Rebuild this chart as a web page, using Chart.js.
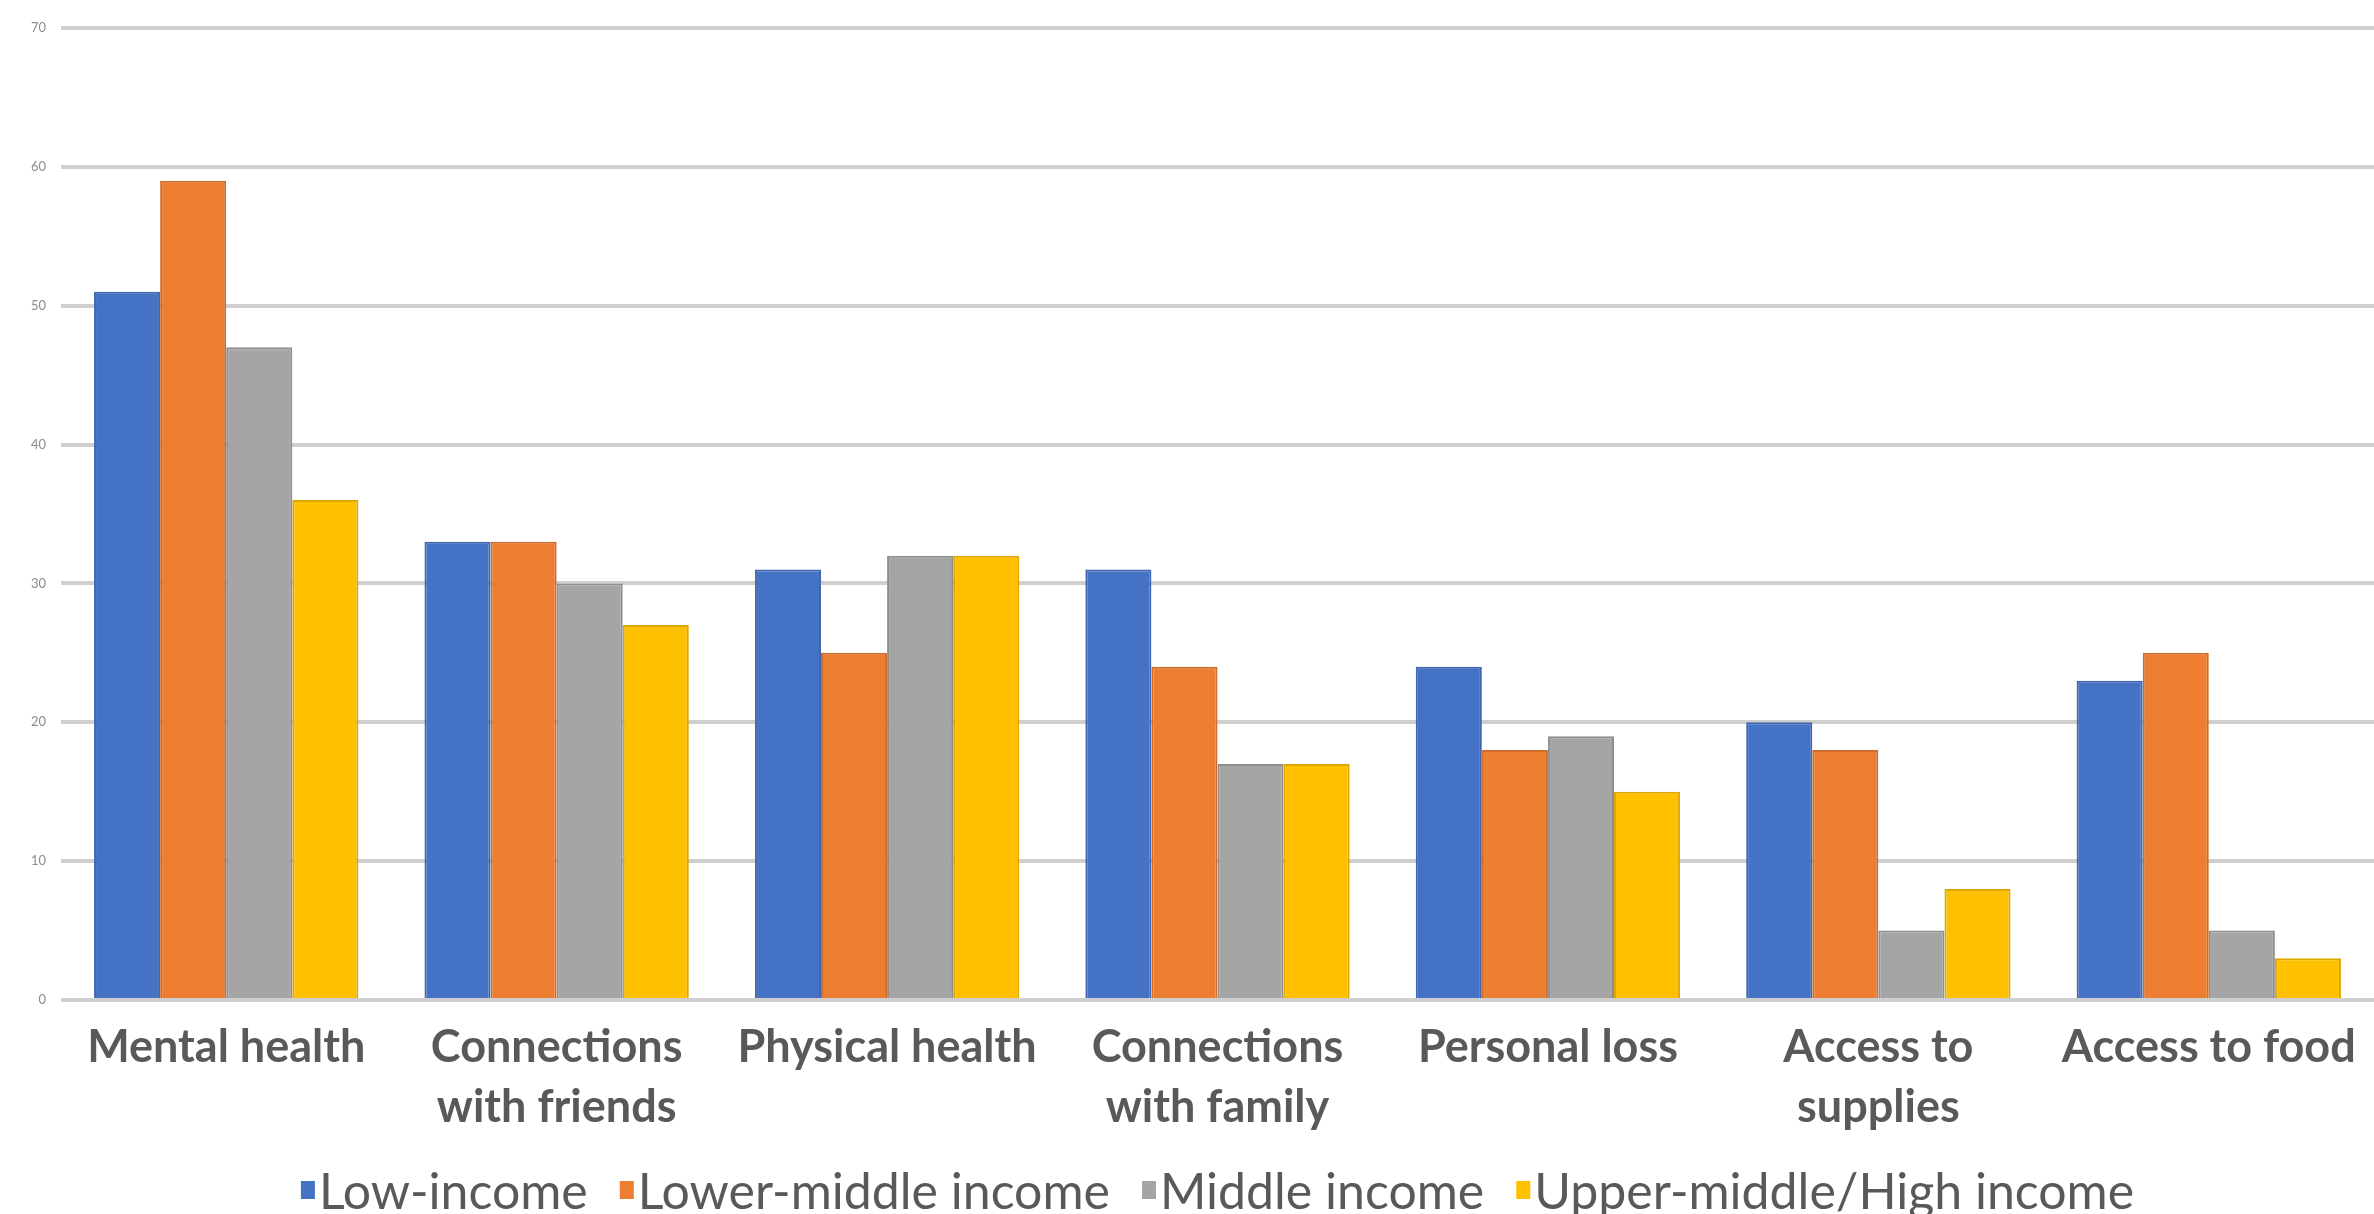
<!DOCTYPE html>
<html>
<head>
<meta charset="utf-8">
<title>Impact by income group</title>
<script src="https://cdn.jsdelivr.net/npm/chart.js@4.4.1/dist/chart.umd.min.js"></script>
<style>
    html, body { margin: 0; padding: 0; background: #ffffff; }
    #wrap { width: 2374px; height: 1214px; }
</style>
</head>
<body>
<div id="wrap"><canvas id="impact" width="2374" height="1214"></canvas></div>
<script>
// Categorias (eixo X)
var categories = [
    'Mental health',
    ['Connections', 'with friends'],
    'Physical health',
    ['Connections', 'with family'],
    'Personal loss',
    ['Access to', 'supplies'],
    'Access to food'
];

// Séries
var seriesNames = ['Low-income', 'Lower-middle income', 'Middle income', 'Upper-middle/High income'];
var lowIncome = [51, 33, 31, 31, 24, 20, 23];
var lowerMiddle = [59, 33, 25, 24, 18, 18, 25];
var middleIncome = [47, 30, 32, 17, 19, 5, 5];
var upperMiddleHigh = [36, 27, 32, 17, 15, 8, 3];

// Eixo Y
var yTicks = [0, 10, 20, 30, 40, 50, 60, 70];

var fills = ['#4472C4', '#ED7D31', '#A5A5A5', '#FFC000'];
var borders = ['#3F66AE', '#CF6C2A', '#8E8E8E', '#DDA700'];
var seriesValues = [lowIncome, lowerMiddle, middleIncome, upperMiddleHigh];

var datasets = seriesNames.map(function (name, i) {
    return {
        label: name,
        data: seriesValues[i],
        backgroundColor: fills[i],
        borderColor: borders[i],
        borderWidth: 2,
        categoryPercentage: 0.8,
        barPercentage: 1.0
    };
});

/**
 * Legenda desenhada à mão (quadrado pequeno colado ao texto)
 */
var bottomLegend = {
    id: 'bottomLegend',
    afterDraw: function (chart) {
        var ctx = chart.ctx;
        var font = '50px Lato';
        var gap = 32, box = 14, boxH = 18, boxGap = 4;
        ctx.save();
        ctx.font = font;
        var widths = chart.data.datasets.map(function (ds) {
            return box + boxGap + ctx.measureText(ds.label).width;
        });
        var total = widths.reduce(function (a, b) { return a + b; }, 0) + gap * (widths.length - 1);
        var x = (chart.chartArea.left + chart.chartArea.right) / 2 - total / 2;
        var y = 1193;
        ctx.textBaseline = 'middle';
        chart.data.datasets.forEach(function (ds, i) {
            ctx.fillStyle = ds.backgroundColor;
            ctx.fillRect(x, y - boxH / 2 - 3, box, boxH);
            ctx.fillStyle = '#595959';
            ctx.fillText(ds.label, x + box + boxGap, y);
            x += widths[i] + gap;
        });
        ctx.restore();
    }
};

var chart = new Chart(document.getElementById('impact'), {
    type: 'bar',
    data: {
        labels: categories,
        datasets: datasets
    },
    options: {
        responsive: false,
        animation: false,
        layout: {
            padding: { top: 28, right: 0, bottom: 64, left: 0 }
        },
        plugins: {
            legend: { display: false },
            tooltip: { enabled: false }
        },
        scales: {
            x: {
                grid: { display: false },
                border: { display: false },
                ticks: {
                    color: '#595959',
                    font: { family: 'Lato', size: 45, weight: 'bold', lineHeight: 1.32 },
                    padding: 10,
                    maxRotation: 0,
                    autoSkip: false
                },
                afterFit: function (scale) { scale.height = 150; }
            },
            y: {
                min: 0,
                max: 70,
                afterBuildTicks: function (scale) {
                    scale.ticks = yTicks.map(function (v) { return { value: v }; });
                },
                grid: { color: '#CFCFCF', lineWidth: 4, drawTicks: false },
                border: { display: false },
                ticks: {
                    color: '#8C8C8C',
                    font: { family: 'Lato', size: 13 },
                    padding: 15
                },
                afterFit: function (scale) { scale.width = 61; }
            }
        }
    },
    plugins: [bottomLegend]
});
</script>
</body>
</html>
